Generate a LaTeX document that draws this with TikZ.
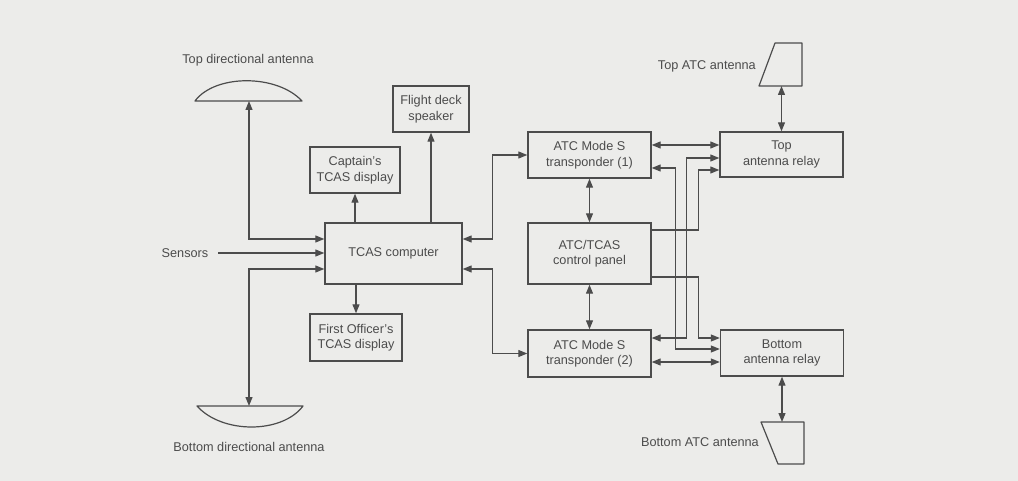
\documentclass[tikz,border=0pt]{standalone}
\usepackage{fontspec}
\setmainfont{Liberation Sans}
\usetikzlibrary{arrows.meta}

\definecolor{paper}{RGB}{236,236,234}
\definecolor{ink}{RGB}{76,76,76}

\tikzset{
  unit/.style={draw=ink, line width=1.4pt, align=center, inner sep=0pt, text=ink,
    minimum width=123pt, minimum height=46pt},
  wire/.style={draw=ink, line width=1.2pt},
  aerial/.style={draw=ink, line width=1.2pt, line join=round},
  caption/.style={text=ink, inner sep=0pt},
  >={Triangle[length=9pt,width=7pt]}
}

\begin{document}
\begin{tikzpicture}[x=1pt,y=-1pt,font=\fontsize{12.7}{15.5}\selectfont]
  \fill[paper] (0,0) rectangle (1018,481);
  \useasboundingbox (0,0) rectangle (1018,481);

  % TCAS side
  \node[unit, minimum width=137pt, minimum height=61pt] (comp) at (393.5,253.5) {TCAS computer};
  \node[unit, minimum width=90pt] (capt) at (355,170) {Captain's\\TCAS display};
  \node[unit, minimum width=76pt] (spk) at (431,109) {Flight deck\\speaker};
  \node[unit, minimum width=92pt, minimum height=47pt] (fo) at (356,337.5) {First Officer's\\TCAS display};

  % directional antennas
  \draw[aerial] (195,101) .. controls (215,74) and (277,74) .. (302,101) -- cycle;
  \coordinate (topdir) at (249,101);
  \draw[aerial] (197,406) .. controls (222,434) and (282,434) .. (303,406) -- cycle;
  \coordinate (botdir) at (249,406);
  \node[caption] (topdirlbl) at (248,60) {Top directional antenna};
  \node[caption] (botdirlbl) at (249,447) {Bottom directional antenna};
  \node[caption] (sens) at (185,253) {Sensors};

  % transponder side
  \node[unit] (xp1) at (589.5,155) {ATC Mode S\\transponder (1)};
  \node[unit, minimum height=61pt] (panel) at (589.5,253.5) {ATC/TCAS\\control panel};
  \node[unit, minimum height=47pt] (xp2) at (589.5,353.5) {ATC Mode S\\transponder (2)};
  \node[unit, minimum height=45pt] (toprel) at (781.5,154.5) {Top\\antenna relay};
  \node[unit] (botrel) at (782,353) {Bottom\\antenna relay};

  % ATC antennas
  \draw[aerial] (775,43) -- (802,43) -- (802,86) -- (759,86) -- cycle;
  \coordinate (topatc) at (781.5,86);
  \draw[aerial] (761,422) -- (804,422) -- (804,464) -- (778,464) -- cycle;
  \coordinate (botatc) at (782,422);
  \node[caption, anchor=east] (topatclbl) at (756,66) {Top ATC antenna};
  \node[caption, anchor=east] (botatclbl) at (759,442) {Bottom ATC antenna};

  % computer connections
  \draw[wire,<->] (topdir) |- (comp.west |- 0,239);
  \draw[wire,->] ([xshift=10pt]sens.east) -- (comp.west |- sens);
  \draw[wire,<->] (comp.west |- 0,269) -| (botdir);
  \draw[wire,->] (comp.north -| capt) -- (capt.south);
  \draw[wire,->] (comp.north -| spk) -- (spk.south);
  \draw[wire,->] (comp.south -| fo) -- (fo.north);
  \draw[wire,<->] (comp.east |- 0,239) -- ++(30,0) |- (xp1.west);
  \draw[wire,<->] (comp.east |- 0,269) -- ++(30,0) |- (xp2.west);

  % transponders, panel and relays
  \draw[wire,<->] (xp1.south) -- (panel.north);
  \draw[wire,<->] (panel.south) -- (xp2.north);
  \draw[wire,<->] (xp1.east |- 0,145) -- (toprel.west |- 0,145);
  \draw[wire,<->] (xp2.east |- 0,338) -- ++(35,0) |- (toprel.west |- 0,158);
  \draw[wire,->] (panel.east |- 0,230) -- ++(47,0) |- (toprel.west |- 0,170);
  \draw[wire,<->] (xp1.east |- 0,168) -- ++(24,0) |- (botrel.west |- 0,349);
  \draw[wire,->] (panel.east |- 0,277) -- ++(47,0) |- (botrel.west |- 0,338);
  \draw[wire,<->] (xp2.east |- 0,362) -- (botrel.west |- 0,362);
  \draw[wire,<->] (topatc) -- (toprel.north);
  \draw[wire,<->] (botrel.south) -- (botatc);
\end{tikzpicture}
\end{document}
